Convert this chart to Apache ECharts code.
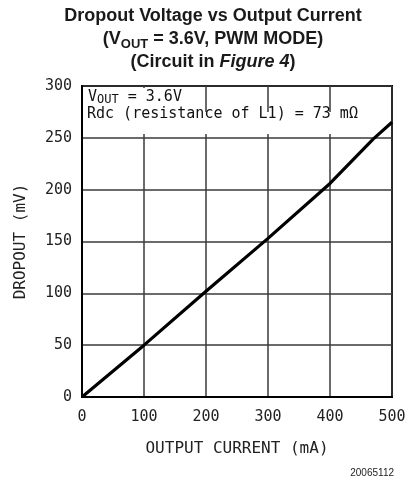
<!DOCTYPE html>
<html>
<head>
<meta charset="utf-8">
<script src="https://cdn.jsdelivr.net/npm/echarts@6/dist/echarts.min.js"></script>
<style>
html,body{margin:0;padding:0;background:#fff;}
#c{width:412px;height:484px;}
</style>
</head>
<body>
<div id="c"></div>
<script>
// Data
var currentMA = [0, 100, 200, 300, 400, 470, 500];
var dropoutMV = [0, 50, 102, 153, 206, 249, 265];
var xTicks = [0, 100, 200, 300, 400, 500];
var yTicks = [0, 50, 100, 150, 200, 250, 300];

var chart = echarts.init(document.getElementById('c'), null, {renderer: 'canvas'});
var plotFont = 'DejaVu Sans Mono';
var option = {
  animation: false,
  backgroundColor: '#fff',
  title: {
    left: 208,
    textAlign: 'center',
    top: 0,
    text: '{b|Dropout Voltage vs Output Current}\n{b|(V}{sub|OUT}{b| = 3.6V, PWM MODE)}\n{b|(Circuit in }{i|Figure 4}{b|)}',
    textStyle: {
      rich: {
        b: {fontFamily: 'Liberation Sans', fontWeight: 'bold', fontSize: 18, color: '#1a1a1a', lineHeight: 23},
        i: {fontFamily: 'Liberation Sans', fontWeight: 'bold', fontStyle: 'italic', fontSize: 18, color: '#1a1a1a', lineHeight: 23},
        sub: {fontFamily: 'Liberation Sans', fontWeight: 'bold', fontSize: 13, color: '#1a1a1a', lineHeight: 23, verticalAlign: 'bottom', padding: [7, 0, 0, 0]}
      }
    }
  },
  grid: {left: 82, right: 20, top: 86, bottom: 87, show: true, borderColor: '#000', borderWidth: 2, backgroundColor: 'transparent'},
  xAxis: {
    type: 'value', min: 0, max: 500, interval: 100,
    name: 'OUTPUT CURRENT (mA)', nameLocation: 'middle', nameGap: 44,
    nameTextStyle: {fontFamily: plotFont, fontSize: 16, color: '#222'},
    axisLine: {show: true, lineStyle: {color: '#000', width: 2}},
    axisTick: {show: false},
    axisLabel: {fontFamily: plotFont, fontSize: 15, color: '#222', margin: 13,
      formatter: function (v) { return xTicks.indexOf(v) >= 0 ? String(v) : ''; }},
    splitLine: {show: true, lineStyle: {color: '#3a3a3a', width: 1.5}}
  },
  yAxis: {
    type: 'value', min: 0, max: 300, interval: 50,
    name: 'DROPOUT (mV)', nameLocation: 'middle', nameGap: 53,
    nameTextStyle: {fontFamily: plotFont, fontSize: 16, color: '#222'},
    axisLine: {show: true, lineStyle: {color: '#000', width: 2}},
    axisTick: {show: false},
    axisLabel: {fontFamily: plotFont, fontSize: 15, color: '#222', margin: 10,
      formatter: function (v) { return yTicks.indexOf(v) >= 0 ? String(v) : ''; }},
    splitLine: {show: true, lineStyle: {color: '#3a3a3a', width: 1.5}}
  },
  series: [{
    type: 'line',
    data: currentMA.map(function (x, i) { return [x, dropoutMV[i]]; }),
    showSymbol: false,
    lineStyle: {color: '#000', width: 3.2},
    z: 5
  }],
  graphic: [
    {type: 'rect', shape: {x: 84, y: 88, width: 102, height: 24}, style: {fill: '#fff'}, z: 10},
    {type: 'rect', shape: {x: 84, y: 112, width: 280, height: 22}, style: {fill: '#fff'}, z: 10},
    {type: 'text', left: 88, top: 90, z: 11,
      style: {text: '{a|V}{s|OUT}{a| = 3.6V}', rich: {
        a: {fontFamily: plotFont, fontSize: 15, fill: '#111'},
        s: {fontFamily: plotFont, fontSize: 12, fill: '#111', padding: [5, 0, 0, 0]}
      }}},
    {type: 'text', left: 87, top: 107, z: 11,
      style: {text: 'Rdc (resistance of L1) = 73 m\u03A9', fontFamily: plotFont, fontSize: 15, fill: '#111'}},
    {type: 'text', right: 18, top: 468, z: 11,
      style: {text: '20065112', fontFamily: 'Liberation Sans', fontSize: 10, fill: '#222'}}
  ]
};
chart.setOption(option);
</script>
</body>
</html>
